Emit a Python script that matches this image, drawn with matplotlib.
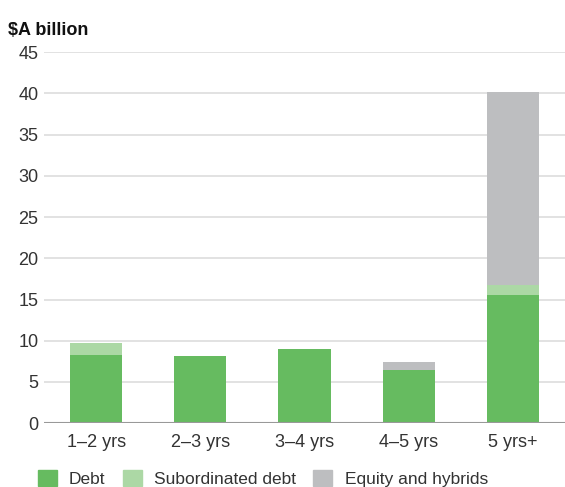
import numpy as np
import matplotlib
matplotlib.use("Agg")
import matplotlib.pyplot as plt
from matplotlib.patches import Patch

# --- DATA ---
categories = ["1\u20132 yrs", "2\u20133 yrs", "3\u20134 yrs", "4\u20135 yrs", "5 yrs+"]
debt = [8.3, 8.1, 9.0, 6.4, 15.5]
subordinated = [1.4, 0.0, 0.0, 0.0, 1.2]
equity_hybrids = [0.0, 0.0, 0.0, 1.0, 23.5]
yticks = [0, 5, 10, 15, 20, 25, 30, 35, 40, 45]

# --- STYLE ---
plt.rcParams['font.family'] = ['Liberation Sans', 'DejaVu Sans']
C_DEBT = "#66bb60"
C_SUB = "#acd8a5"
C_EQ = "#bdbec0"
TXT = "#333333"

fig = plt.figure(figsize=(5.65, 4.87), dpi=100)
ax = fig.add_axes([0.078, 0.131, 0.922, 0.762])

x = np.arange(len(categories))
w = 0.5
debt = np.array(debt)
subordinated = np.array(subordinated)
equity_hybrids = np.array(equity_hybrids)

ax.bar(x, debt, w, color=C_DEBT, zorder=3)
ax.bar(x, subordinated, w, bottom=debt, color=C_SUB, zorder=3)
ax.bar(x, equity_hybrids, w, bottom=debt + subordinated, color=C_EQ, zorder=3)

ax.set_xlim(-0.5, 4.5)
ax.set_ylim(0, 45)
ax.set_yticks(yticks)
ax.set_xticks(x)
ax.set_xticklabels(categories)
ax.yaxis.grid(True, color="#dddddd", linewidth=1.2, zorder=0)
ax.axhline(0, color="#999999", linewidth=1.5, zorder=4)
for s in ax.spines.values():
    s.set_visible(False)
ax.tick_params(axis="both", length=0, labelsize=13, colors=TXT)
ax.tick_params(axis="x", pad=8)
ax.tick_params(axis="y", pad=4)

fig.text(0.014, 0.938, r"\$A billion", fontsize=13, fontweight="bold", color="#111111",
         va="center", ha="left")

handles = [Patch(color=C_DEBT, label="Debt"),
           Patch(color=C_SUB, label="Subordinated debt"),
           Patch(color=C_EQ, label="Equity and hybrids")]
fig.legend(handles=handles, loc="center left", bbox_to_anchor=(0.045, 0.018), ncol=3,
           frameon=False, fontsize=12.5, handlelength=1.1, handleheight=1.1,
           handletextpad=0.7, columnspacing=1.0, labelcolor=TXT, borderpad=0.2)

fig.savefig("out.png", dpi=100)
